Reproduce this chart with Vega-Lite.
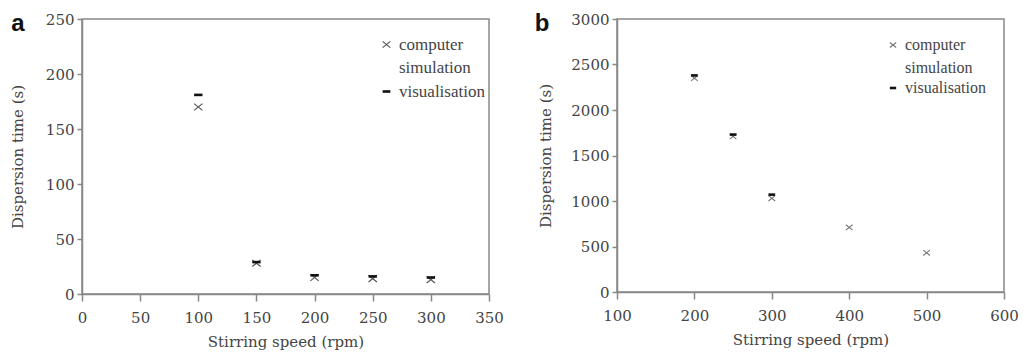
{
  "$schema": "https://vega.github.io/schema/vega-lite/v6.json",
  "background": "white",
  "padding": {"left": 9, "top": 11, "right": 2, "bottom": 2},
  "datasets": {
    "pts": [
      {"panel": "a", "series": "computer simulation", "speed": 100, "time": 170},
      {"panel": "a", "series": "computer simulation", "speed": 150, "time": 28},
      {"panel": "a", "series": "computer simulation", "speed": 200, "time": 15},
      {"panel": "a", "series": "computer simulation", "speed": 250, "time": 14},
      {"panel": "a", "series": "computer simulation", "speed": 300, "time": 13},
      {"panel": "a", "series": "visualisation", "speed": 100, "time": 181},
      {"panel": "a", "series": "visualisation", "speed": 150, "time": 29},
      {"panel": "a", "series": "visualisation", "speed": 200, "time": 17},
      {"panel": "a", "series": "visualisation", "speed": 250, "time": 16},
      {"panel": "a", "series": "visualisation", "speed": 300, "time": 15},
      {"panel": "b", "series": "computer simulation", "speed": 200, "time": 2350},
      {"panel": "b", "series": "computer simulation", "speed": 250, "time": 1710},
      {"panel": "b", "series": "computer simulation", "speed": 300, "time": 1030},
      {"panel": "b", "series": "computer simulation", "speed": 400, "time": 710},
      {"panel": "b", "series": "computer simulation", "speed": 500, "time": 430},
      {"panel": "b", "series": "visualisation", "speed": 200, "time": 2380},
      {"panel": "b", "series": "visualisation", "speed": 250, "time": 1730},
      {"panel": "b", "series": "visualisation", "speed": 300, "time": 1070}
    ]
  },
  "spacing": 29,
  "resolve": {"scale": {"x": "independent", "y": "independent", "shape": "independent", "color": "independent", "strokeWidth": "independent", "size": "independent"}, "legend": {"shape": "independent", "color": "independent", "strokeWidth": "independent", "size": "independent"}},
  "hconcat": [
    {
      "width": 407,
      "height": 275,
      "title": {"text": "a", "anchor": "start", "frame": "bounds", "orient": "top", "font": "Liberation Sans", "fontSize": 24, "fontWeight": "bold", "color": "#111", "offset": -24, "dx": 1},
      "data": {"name": "pts"},
      "transform": [{"filter": "datum.panel == 'a'"}],
      "mark": {"type": "point", "filled": false, "opacity": 1},
      "encoding": {
        "x": {"field": "speed", "type": "quantitative", "title": "Stirring speed (rpm)", "scale": {"domain": [0, 350], "nice": false}, "axis": {"values": [0, 50, 100, 150, 200, 250, 300, 350]}},
        "y": {"field": "time", "type": "quantitative", "title": "Dispersion time (s)", "scale": {"domain": [0, 250], "nice": false}, "axis": {"values": [0, 50, 100, 150, 200, 250], "titlePadding": 20}},
        "shape": {"field": "series", "type": "nominal", "scale": {"domain": ["computer simulation", "visualisation"], "range": ["M-1,-0.8L1,0.8M1,-0.8L-1,0.8", "M-1,0L1,0"]}, "legend": {"orient": "none", "legendX": 296, "legendY": 17, "title": null, "labelFontSize": 17, "rowPadding": 6, "labelExpr": "datum.label == 'computer simulation' ? ['computer', 'simulation'] : datum.label"}},
        "color": {"field": "series", "type": "nominal", "scale": {"domain": ["computer simulation", "visualisation"], "range": ["#555555", "#111111"]}, "legend": {"orient": "none", "legendX": 296, "legendY": 17, "title": null, "labelFontSize": 17, "rowPadding": 6, "labelExpr": "datum.label == 'computer simulation' ? ['computer', 'simulation'] : datum.label"}},
        "strokeWidth": {"field": "series", "type": "nominal", "scale": {"domain": ["computer simulation", "visualisation"], "range": [1.2, 2.6]}, "legend": null},
        "size": {"value": 70}
      }
    },
    {
      "width": 387,
      "height": 273,
      "title": {"text": "b", "anchor": "start", "frame": "bounds", "orient": "top", "font": "Liberation Sans", "fontSize": 24, "fontWeight": "bold", "color": "#111", "offset": -24, "dx": -4},
      "data": {"name": "pts"},
      "transform": [{"filter": "datum.panel == 'b'"}],
      "mark": {"type": "point", "filled": false, "opacity": 1},
      "encoding": {
        "x": {"field": "speed", "type": "quantitative", "title": "Stirring speed (rpm)", "scale": {"domain": [100, 600], "nice": false}, "axis": {"values": [100, 200, 300, 400, 500, 600]}},
        "y": {"field": "time", "type": "quantitative", "title": "Dispersion time (s)", "scale": {"domain": [0, 3000], "nice": false}, "axis": {"values": [0, 500, 1000, 1500, 2000, 2500, 3000], "format": "d", "titlePadding": 17}},
        "shape": {"field": "series", "type": "nominal", "scale": {"domain": ["computer simulation", "visualisation"], "range": ["M-1,-0.8L1,0.8M1,-0.8L-1,0.8", "M-1,0L1,0"]}, "legend": {"orient": "none", "legendX": 268, "legendY": 18, "title": null, "labelFontSize": 16, "rowPadding": 4, "symbolSize": 40, "labelExpr": "datum.label == 'computer simulation' ? ['computer', 'simulation'] : datum.label"}},
        "color": {"field": "series", "type": "nominal", "scale": {"domain": ["computer simulation", "visualisation"], "range": ["#777777", "#111111"]}, "legend": {"orient": "none", "legendX": 268, "legendY": 18, "title": null, "labelFontSize": 16, "rowPadding": 4, "symbolSize": 40, "labelExpr": "datum.label == 'computer simulation' ? ['computer', 'simulation'] : datum.label"}},
        "strokeWidth": {"field": "series", "type": "nominal", "scale": {"domain": ["computer simulation", "visualisation"], "range": [1.1, 2.6]}, "legend": null},
        "size": {"value": 45}
      }
    }
  ],
  "config": {
    "view": {"stroke": "#888888", "strokeWidth": 1.5},
    "style": {"guide-label": {"lineHeight": 23}},
    "axis": {
      "grid": false,
      "domainColor": "#888888",
      "domainWidth": 1.5,
      "tickColor": "#888888",
      "tickWidth": 1.5,
      "tickSize": 5,
      "labelFlush": false,
      "labelFont": "DejaVu Serif",
      "labelFontSize": 15,
      "labelColor": "#444444",
      "titleFont": "DejaVu Serif",
      "titleFontSize": 15,
      "titleFontWeight": "normal",
      "titleColor": "#444444",
      "labelPadding": 4
    },
    "axisY": {"labelPadding": 3},
    "axisX": {"tickSize": 7, "labelPadding": 9, "titlePadding": 9},
    "legend": {
      "labelFont": "Liberation Serif",
      "labelFontSize": 17,
      "labelColor": "#444444",
      "labelLimit": 200,
      "symbolSize": 60,
      "rowPadding": 2
    }
  }
}
